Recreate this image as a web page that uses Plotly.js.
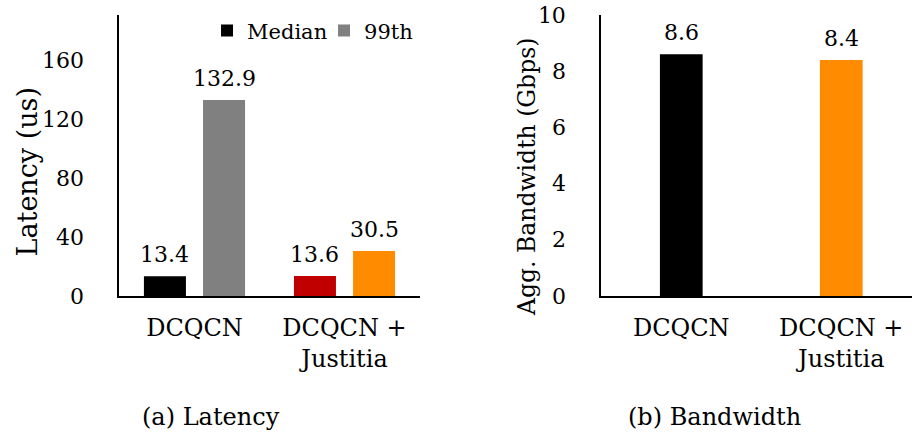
<!DOCTYPE html>
<html>
<head>
<meta charset="utf-8">
<script src="https://cdn.plot.ly/plotly-3.0.1.min.js"></script>
<style>
  html, body { margin: 0; padding: 0; background: #fff; }
  #chart { width: 912px; height: 434px; }
</style>
</head>
<body>
<div id="chart"></div>
<script>
// Latency panel
const latencyCategories = ['DCQCN', 'DCQCN +<br>Justitia'];
const medianLatency = [13.4, 13.6];
const tailLatency = [132.9, 30.5];
const medianColors = ['#000000', '#C00000'];
const tailColors = ['#808080', '#FF8C00'];

// Bandwidth panel
const bandwidthCategories = ['DCQCN', 'DCQCN +<br>Justitia'];
const bandwidth = [8.6, 8.4];
const bandwidthColors = ['#000000', '#FF8C00'];

const FONT = 'DejaVu Serif';
const BLACK = '#000';

// bar geometry in category units
const GROUP_W = 0.28;
const MEDIAN_OFF = -0.337;
const TAIL_OFF = 0.057;
const BW_W = 0.267;

const traces = [
  {
    type: 'bar', name: 'Median', x: latencyCategories, y: medianLatency,
    xaxis: 'x', yaxis: 'y',
    marker: { color: medianColors }, width: GROUP_W, offset: MEDIAN_OFF,
    hoverinfo: 'skip'
  },
  {
    type: 'bar', name: '99th', x: latencyCategories, y: tailLatency,
    xaxis: 'x', yaxis: 'y',
    marker: { color: tailColors }, width: GROUP_W, offset: TAIL_OFF,
    hoverinfo: 'skip'
  },
  {
    type: 'bar', name: 'Bandwidth', x: bandwidthCategories, y: bandwidth,
    xaxis: 'x2', yaxis: 'y2', showlegend: false,
    marker: { color: bandwidthColors }, width: BW_W,
    hoverinfo: 'skip'
  }
];

// value labels sitting above each bar
function valueLabels(values, xref, yref, centerOffset) {
  return values.map((v, i) => ({
    text: v.toFixed(1), xref: xref, yref: yref,
    x: i + centerOffset, y: v,
    xanchor: 'center', yanchor: 'bottom', yshift: 7, showarrow: false,
    font: { family: FONT, size: 22, color: BLACK }
  }));
}

const axisCommon = {
  showline: true, linecolor: BLACK, linewidth: 2,
  showgrid: false, zeroline: false, ticks: '', fixedrange: true
};

const layout = {
  width: 912, height: 434,
  margin: { l: 0, r: 0, t: 0, b: 0 },
  paper_bgcolor: '#fff', plot_bgcolor: '#fff',
  barmode: 'overlay',
  font: { family: FONT, color: BLACK },
  showlegend: true,
  legend: {
    orientation: 'h', x: 0.227, y: 0.929, xanchor: 'left', yanchor: 'middle',
    font: { family: FONT, size: 21, color: BLACK },
    bgcolor: 'rgba(0,0,0,0)', itemwidth: 30, tracegroupgap: 0,
    entrywidth: 72, entrywidthmode: 'pixels'
  },
  xaxis: Object.assign({}, axisCommon, {
    domain: [0.131, 0.46], range: [-0.5, 1.5], anchor: 'y',
    type: 'category', ticklabelstandoff: 9,
    tickfont: { family: FONT, size: 24, color: BLACK }
  }),
  yaxis: Object.assign({}, axisCommon, {
    domain: [0.318, 0.9654], range: [0, 190.5], anchor: 'x',
    tickvals: [0, 40, 80, 120, 160], ticklabelstandoff: 29,
    tickfont: { family: FONT, size: 22, color: BLACK }
  }),
  xaxis2: Object.assign({}, axisCommon, {
    domain: [0.6593, 1], range: [-0.5, 1.442], anchor: 'y2',
    type: 'category', ticklabelstandoff: 9,
    tickfont: { family: FONT, size: 24, color: BLACK }
  }),
  yaxis2: Object.assign({}, axisCommon, {
    domain: [0.318, 0.9654], range: [0, 10], anchor: 'x2',
    tickvals: [0, 2, 4, 6, 8, 10], ticklabelstandoff: 29,
    tickfont: { family: FONT, size: 22, color: BLACK }
  }),
  annotations: [
    { text: 'Latency (us)', xref: 'paper', yref: 'paper', x: 26.5 / 912, y: 1 - 172 / 434,
      xanchor: 'center', yanchor: 'middle', textangle: -90, showarrow: false,
      font: { family: FONT, size: 27, color: BLACK } },
    { text: 'Agg. Bandwidth (Gbps)', xref: 'paper', yref: 'paper', x: 527 / 912, y: 1 - 177 / 434,
      xanchor: 'center', yanchor: 'middle', textangle: -90, showarrow: false,
      font: { family: FONT, size: 23.5, color: BLACK } },
    { text: '(a) Latency', xref: 'paper', yref: 'paper', x: 211 / 912, y: 1 - 417 / 434,
      xanchor: 'center', yanchor: 'middle', showarrow: false,
      font: { family: FONT, size: 24, color: BLACK } },
    { text: '(b) Bandwidth', xref: 'paper', yref: 'paper', x: 714 / 912, y: 1 - 417 / 434,
      xanchor: 'center', yanchor: 'middle', showarrow: false,
      font: { family: FONT, size: 24, color: BLACK } }
  ]
    .concat(valueLabels(medianLatency, 'x', 'y', MEDIAN_OFF + GROUP_W / 2))
    .concat(valueLabels(tailLatency, 'x', 'y', TAIL_OFF + GROUP_W / 2))
    .concat(valueLabels(bandwidth, 'x2', 'y2', 0))
};

Plotly.newPlot('chart', traces, layout, { displayModeBar: false, staticPlot: true });
</script>
</body>
</html>
